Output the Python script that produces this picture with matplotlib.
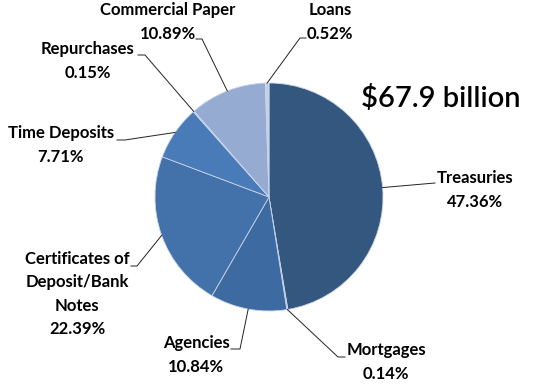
import numpy as np
import matplotlib.pyplot as plt

# data
labels = ['Treasuries', 'Mortgages', 'Agencies', 'Certificates of\nDeposit/Bank\nNotes',
          'Time Deposits', 'Repurchases', 'Commercial Paper', 'Loans']
shares = [47.36, 0.14, 10.84, 22.39, 7.71, 0.15, 10.89, 0.52]
colors = ['#34577f', '#b4c4e2', '#3e6aa2', '#4371aa', '#4a7bb9', '#c0cde6', '#95abd2', '#c4d0e8']
total_text = '$67.9 billion'

W, H = 539, 384
fig = plt.figure(figsize=(W / 100, H / 100), dpi=100)
ax = fig.add_axes([0, 0, 1, 1])

cx, cy, r = 269, H - 197, 114
wedges, _ = ax.pie(shares, colors=colors, startangle=90, counterclock=False,
                   center=(cx, cy), radius=r, frame=True,
                   wedgeprops=dict(edgecolor='#c9d4e8', linewidth=0.6))
ax.set_xlim(0, W)
ax.set_ylim(0, H)
ax.set_aspect('equal')
ax.axis('off')

# label layout: (elbow x, elbow y, stub end x, text center x, text center y) in pixels from top
layout = [
    (435, 183, 435, 475, 190),
    (338, 357, 345, 386, 362),
    (240, 349, 231, 196, 355),
    (137, 266, 131, 77, 294),
    (125, 140, 117, 61, 145),
    (145, 55, 138, 88, 61),
    (202, 39, 196, 168, 22),
    (300, 38, 306, 330, 22),
]

font = ['Lato', 'DejaVu Sans']
for w, name, val, (ex, ey, sx, tx, ty) in zip(wedges, labels, shares, layout):
    ang = np.deg2rad((w.theta1 + w.theta2) / 2)
    px, py = cx + r * np.cos(ang), cy + r * np.sin(ang)
    ax.plot([px, ex, sx], [py, H - ey, H - ey], color='#222222', lw=0.7)
    ax.text(tx, H - ty, f'{name}\n{val:.2f}%', ha='center', va='center',
            multialignment='center', fontsize=12, fontweight='bold',
            family=font, color='black', linespacing=1.55)

ax.text(361, H - 98, total_text, ha='left', va='center', fontsize=21,
        fontweight='semibold', family=font, color='black')

fig.savefig('out.png', dpi=100)
